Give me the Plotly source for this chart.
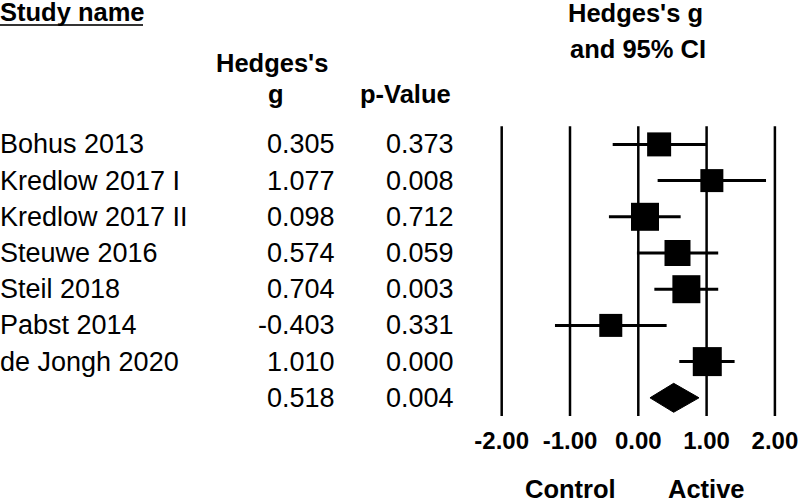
import plotly.graph_objects as go

studies = ["Bohus 2013", "Kredlow 2017 I", "Kredlow 2017 II", "Steuwe 2016",
           "Steil 2018", "Pabst 2014", "de Jongh 2020"]
g_vals = [0.305, 1.077, 0.098, 0.574, 0.704, -0.403, 1.010]
p_vals = ["0.373", "0.008", "0.712", "0.059", "0.003", "0.331", "0.000"]
ci_low = [-0.375, 0.283, -0.43, -0.02, 0.235, -1.22, 0.60]
ci_high = [0.99, 1.87, 0.62, 1.17, 1.17, 0.415, 1.41]
box_size = [24, 23, 28, 26, 28, 23, 29]

sum_g = 0.518
sum_p = "0.004"
sum_low = 0.171
sum_high = 0.889

tick_vals = [-2, -1, 0, 1, 2]
tick_text = ["-2.00", "-1.00", "0.00", "1.00", "2.00"]

W, H = 800, 503
ROW0 = 144.4
ROWH = 36.2
PLOT_BOTTOM = 424
FONT = "Liberation Sans, Arial, sans-serif"

rows = list(range(len(studies)))
sum_row = len(studies)

fig = go.Figure()

# study boxes with CI whiskers
fig.add_trace(go.Scatter(
    x=g_vals, y=rows, mode="markers",
    marker=dict(symbol="square", size=box_size, color="black", opacity=1,
                line=dict(width=0)),
    error_x=dict(type="data", symmetric=False,
                 array=[h - g for h, g in zip(ci_high, g_vals)],
                 arrayminus=[g - l for g, l in zip(g_vals, ci_low)],
                 color="black", thickness=3, width=0),
    showlegend=False, hoverinfo="skip"))

# summary diamond
dh = 0.4
fig.add_trace(go.Scatter(
    x=[sum_low, sum_g, sum_high, sum_g, sum_low],
    y=[sum_row, sum_row - dh, sum_row, sum_row + dh, sum_row],
    mode="lines", fill="toself", fillcolor="black",
    line=dict(color="black", width=1), showlegend=False, hoverinfo="skip"))

# vertical reference lines
for tv in tick_vals:
    fig.add_shape(type="line", x0=tv, x1=tv, y0=-0.5, y1=sum_row + 0.5,
                  xref="x", yref="y", line=dict(color="black", width=2.5))

def py(px):
    return 1 - px / H

reg = dict(size=27, color="black", family=FONT)
LSH = -2   # left-aligned text shift
RSH = 4    # right-aligned text shift
ann = []
for i, (s, g, p) in enumerate(zip(studies, g_vals, p_vals)):
    ann.append(dict(x=0, y=i, xref="paper", yref="y", text=s, xshift=LSH,
                    xanchor="left", yanchor="middle", showarrow=False, font=reg))
    ann.append(dict(x=333 / W, y=i, xref="paper", yref="y", text=f"{g:.3f}", xshift=RSH,
                    xanchor="right", yanchor="middle", showarrow=False, font=reg))
    ann.append(dict(x=452 / W, y=i, xref="paper", yref="y", text=p, xshift=RSH,
                    xanchor="right", yanchor="middle", showarrow=False, font=reg))
ann.append(dict(x=333 / W, y=sum_row, xref="paper", yref="y", text=f"{sum_g:.3f}", xshift=RSH,
                xanchor="right", yanchor="middle", showarrow=False, font=reg))
ann.append(dict(x=452 / W, y=sum_row, xref="paper", yref="y", text=sum_p, xshift=RSH,
                xanchor="right", yanchor="middle", showarrow=False, font=reg))

bold = dict(size=25.5, color="black", family=FONT, weight="bold")
headers = [
    ("Study name", 0, 12, "left", LSH),
    ("Hedges's", 272, 63, "center", 0),
    ("g", 276, 94, "center", 0),
    ("p-Value", 405, 94, "center", 0),
    ("Hedges's g", 635, 13, "center", 0),
    ("and 95% CI", 638, 49, "center", 0),
]
for t, x, y, xa, xs in headers:
    ann.append(dict(x=x / W, y=py(y), xref="paper", yref="paper", text=t, xshift=xs,
                    xanchor=xa, yanchor="middle", showarrow=False, font=bold))

ann.append(dict(x=-1, y=py(489), xref="x", yref="paper", text="Control",
                xanchor="center", yanchor="middle", showarrow=False, font=bold))
ann.append(dict(x=1, y=py(489), xref="x", yref="paper", text="Active",
                xanchor="center", yanchor="middle", showarrow=False, font=bold))

# underline under "Study name"
fig.add_shape(type="line", x0=0, x1=143 / W, y0=py(25), y1=py(25),
              xref="paper", yref="paper", line=dict(color="#333333", width=2))

zero_px = 638.3
unit_px = 68.3
xr = [-2.3, 2.3]
dom = [(zero_px + xr[0] * unit_px) / W, (zero_px + xr[1] * unit_px) / W]

y_top = -ROW0 / ROWH
y_bot = y_top + PLOT_BOTTOM / ROWH

fig.update_layout(
    width=W, height=H,
    margin=dict(l=0, r=0, t=0, b=0),
    paper_bgcolor="white", plot_bgcolor="white",
    annotations=ann,
    xaxis=dict(domain=dom, range=xr, tickvals=tick_vals, ticktext=tick_text,
               showgrid=False, zeroline=False, showline=False, ticks="",
               tickfont=dict(size=24, color="black", family=FONT, weight="bold"),
               automargin=False, fixedrange=True),
    yaxis=dict(domain=[1 - PLOT_BOTTOM / H, 1], range=[y_bot, y_top],
               showgrid=False, zeroline=False, showline=False,
               showticklabels=False, ticks="", automargin=False, fixedrange=True),
)

fig.write_html("out.html", config={"displayModeBar": False})

with open("out.html", "r", encoding="utf-8") as f:
    html = f.read()
html = html.replace("<head>", "<head><style>html,body{margin:0;padding:0;overflow:hidden;}</style>", 1)
with open("out.html", "w", encoding="utf-8") as f:
    f.write(html)
